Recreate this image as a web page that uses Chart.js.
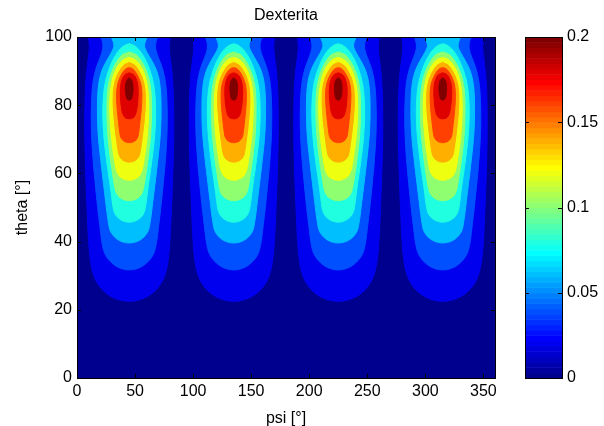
<!DOCTYPE html>
<html>
<head>
<meta charset="utf-8">
<title>Dexterita</title>
<script src="https://cdn.jsdelivr.net/npm/chart.js@4.4.1/dist/chart.umd.min.js"></script>
<style>
  html, body { margin: 0; padding: 0; background: #fff; }
  #wrap { position: relative; width: 604px; height: 426px; overflow: hidden; }
  #plot { position: absolute; left: 0; top: 0; }
  #cbar { position: absolute; left: 495px; top: 0; }
</style>
</head>
<body>
<div id="wrap">
  <canvas id="plot" width="510" height="426"></canvas>
  <canvas id="cbar" width="109" height="426"></canvas>
</div>
<script>
// axis ticks
const psiTicks = [0, 50, 100, 150, 200, 250, 300, 350];
const thetaTicks = [0, 20, 40, 60, 80, 100];
const colorbarTicks = [0, 0.05, 0.1, 0.15, 0.2];
const colorbarLabels = ['0', '0.05', '0.1', '0.15', '0.2'];
const cMax = 0.2;

// contour levels and the psi centre of each lobe
const levels = [0.02, 0.04, 0.06, 0.08, 0.1, 0.12, 0.14, 0.16, 0.18, 0.2];
const lobeCenters = [45, 135, 225, 315];

// outline of each level around one lobe: [theta, half width in psi], bottom to top
const edge02 = [[22.5, 0], [22.6, 4.3], [23, 9.6], [23.7, 14.5], [24.5, 18.4], [26, 23.5], [28, 27.8], [30, 30.5], [33.5, 33.1], [40, 35], [50, 36.4], [60, 37.5], [72, 38.3], [84, 37.9], [90, 36.7], [94, 35.2], [97, 34.4], [100, 35.2]];
const edge04 = [[31.7, 0], [31.8, 3.7], [32.2, 7.8], [33, 12.3], [34.5, 17.2], [36.5, 21.1], [39.7, 23.5], [44, 25.1], [50, 27.2], [57, 29.3], [65, 31.4], [74, 32.7], [82, 32.4], [87, 31.1], [91, 28.4], [94, 25.1], [96.5, 22.8], [98.5, 23], [100, 24.6]];
const edge06 = [[39.6, 0], [39.7, 3.3], [40.1, 7.2], [40.8, 10.8], [42, 14.3], [43.5, 16.7], [45.5, 17.9], [48, 19], [52, 20.4], [57, 22.2], [64, 24.6], [72, 26.9], [80, 27.4], [86, 26.4], [90, 23.7], [93, 19.5], [95.5, 15.3], [97.5, 13.2], [100, 15.3]];
const edge08 = [[45.7, 0], [45.8, 2.9], [46.2, 6.3], [46.9, 9.4], [48, 12.1], [49.9, 13.9], [54, 15.5], [58, 17.1], [64, 19.6], [71, 21.9], [78, 22.8], [84, 21.9], [88, 19.8], [91.5, 16.4], [94.5, 12.1], [96.5, 7.8], [97.6, 3.7], [98, 0]];
const edge10 = [[52, 0], [52.1, 2.8], [52.5, 6], [53.1, 8.6], [54, 10.7], [55.5, 12.2], [58, 13.5], [63, 15.7], [71, 18.4], [78, 19.2], [84, 18.7], [88, 16.7], [91, 13.5], [93.3, 9.7], [94.8, 5.9], [95.6, 0]];
const edge12 = [[58, 0], [58.1, 2.6], [58.5, 5.8], [59.1, 8.3], [60, 10], [61.2, 11.3], [64, 12.8], [70, 15.2], [77, 16.7], [83, 16.5], [87, 14.9], [90, 12.1], [92.2, 8.3], [93.5, 4.4], [94, 0]];
const edge14 = [[63.3, 0], [63.4, 2.4], [63.8, 5.2], [64.5, 7.4], [65.6, 9], [69, 10.6], [73, 12.1], [79, 13.7], [84, 13.7], [87.5, 11.8], [90, 8.4], [91.8, 4.5], [92.5, 0]];
const edge16 = [[69, 0], [69.1, 2.3], [69.5, 4.8], [70.2, 6.7], [71.2, 7.8], [75, 9.2], [79, 10.4], [83, 10.9], [86, 10.1], [88.3, 7.8], [90, 4.8], [90.8, 2.3], [91, 0]];
const edge18 = [[76, 0], [76.1, 2], [76.5, 4], [77.5, 5.6], [79.5, 6.8], [82.5, 7.6], [85.5, 7.5], [87.8, 5.9], [89, 3.5], [89.5, 0]];
const edge20 = [[81.5, 0], [81.6, 1.3], [82.2, 2.3], [83.5, 3], [85, 3.3], [86.8, 2.7], [87.7, 1.4], [88, 0]];
const outlines = [edge02, edge04, edge06, edge08, edge10, edge12, edge14, edge16, edge18, edge20];

const FONT = "'Liberation Sans', Arial, Helvetica, sans-serif";
Chart.defaults.font.family = FONT;
Chart.defaults.font.size = 16;
Chart.defaults.color = '#000';

// matlab jet, 64 entries, k = 1..64
function jet(k) {
    const r = k <= 24 ? 0 : k <= 40 ? (k - 24) / 16 : k <= 56 ? 1 : (72 - k) / 16;
    const g = k <= 8 ? 0 : k <= 24 ? (k - 8) / 16 : k <= 40 ? 1 : k <= 56 ? (56 - k) / 16 : 0;
    const b = k <= 8 ? (k + 8) / 16 : k <= 24 ? 1 : k <= 40 ? (40 - k) / 16 : 0;
    return `rgb(${Math.round(r * 255)},${Math.round(g * 255)},${Math.round(b * 255)})`;
}

function levelColor(v) {
    return jet(Math.min(64, Math.floor(v / cMax * 64) + 1));
}

// closed outline: left side top->bottom, then right side bottom->top
function lobeOutline(edge, c) {
    const left = edge.slice().reverse().map(([t, w]) => ({ x: c - w, y: t }));
    const right = edge.slice(1).map(([t, w]) => ({ x: c + w, y: t }));
    return left.concat(right);
}

const datasets = [];
levels.forEach((level, i) => {
    const color = levelColor(level);
    lobeCenters.forEach(c => {
        datasets.push({
            data: lobeOutline(outlines[i], c),
            backgroundColor: color,
            borderColor: color,
            borderWidth: 1,
            fill: 'shape',
            tension: 0.35,
            pointRadius: 0,
            order: levels.length - i
        });
    });
});

// black box with inward ticks on every side
function drawFrame(chart, xTicks, yTicks) {
    const { ctx, chartArea: a } = chart;
    const len = 4;
    ctx.save();
    ctx.strokeStyle = '#000';
    ctx.lineWidth = 1;
    ctx.beginPath();
    xTicks.forEach(px => {
        px = Math.round(px) + 0.5;
        ctx.moveTo(px, a.bottom); ctx.lineTo(px, a.bottom - len);
        ctx.moveTo(px, a.top); ctx.lineTo(px, a.top + len);
    });
    yTicks.forEach(py => {
        py = Math.round(py) + 0.5;
        ctx.moveTo(a.left, py); ctx.lineTo(a.left + len, py);
        ctx.moveTo(a.right, py); ctx.lineTo(a.right - len, py);
    });
    ctx.stroke();
    ctx.strokeRect(Math.round(a.left) + 0.5, Math.round(a.top) + 0.5, Math.round(a.width), Math.round(a.height));
    ctx.restore();
}

const plotFrame = {
    id: 'plotFrame',
    beforeDraw(chart) {
        const { ctx, chartArea: a } = chart;
        ctx.save();
        ctx.fillStyle = levelColor(0);
        ctx.fillRect(a.left, a.top, a.width, a.height);
        ctx.restore();
    },
    afterDraw(chart) {
        const { x, y } = chart.scales;
        drawFrame(chart,
            x.ticks.map(t => x.getPixelForValue(t.value)),
            y.ticks.map(t => y.getPixelForValue(t.value)));
    }
};

new Chart(document.getElementById('plot'), {
    type: 'line',
    data: { datasets },
    options: {
        animation: false,
        responsive: false,
        devicePixelRatio: 1,
        layout: { padding: { left: 0, right: 15, top: 0, bottom: 0 } },
        plugins: {
            legend: { display: false },
            tooltip: { enabled: false },
            title: {
                display: true,
                text: 'Dexterita',
                fullSize: false,
                color: '#000',
                font: { size: 16, weight: 'normal', lineHeight: 1 },
                padding: { top: 8, bottom: 13 }
            }
        },
        scales: {
            x: {
                type: 'linear',
                min: 0,
                max: 360,
                grid: { display: false, drawTicks: false },
                border: { display: false },
                afterBuildTicks: s => { s.ticks = psiTicks.map(v => ({ value: v })); },
                afterFit: s => { s.height = 48; },
                ticks: { padding: 4, maxRotation: 0, autoSkip: false, callback: v => String(v) },
                title: { display: true, text: 'psi [°]', font: { size: 16, lineHeight: 1 }, padding: { top: 0, bottom: -1 } }
            },
            y: {
                type: 'linear',
                min: 0,
                max: 100,
                grid: { display: false, drawTicks: false },
                border: { display: false },
                afterBuildTicks: s => { s.ticks = thetaTicks.map(v => ({ value: v })); },
                afterFit: s => { s.width = 77; },
                ticks: { padding: 5, autoSkip: false, callback: v => String(v) },
                title: { display: true, text: 'theta [°]', font: { size: 16, lineHeight: 1 }, padding: { top: 15, bottom: 0 } }
            }
        }
    },
    plugins: [plotFrame]
});

const colorbarPaint = {
    id: 'colorbarPaint',
    beforeDraw(chart) {
        const { ctx, chartArea: a, scales: { y } } = chart;
        ctx.save();
        for (let k = 1; k <= 64; k++) {
            const y0 = y.getPixelForValue((k - 1) / 64 * cMax);
            const y1 = y.getPixelForValue(k / 64 * cMax);
            ctx.fillStyle = jet(k);
            ctx.fillRect(a.left, y1, a.width, y0 - y1 + 0.5);
        }
        ctx.restore();
    },
    afterDraw(chart) {
        const { y } = chart.scales;
        drawFrame(chart, [], y.ticks.map(t => y.getPixelForValue(t.value)));
    }
};

new Chart(document.getElementById('cbar'), {
    type: 'bar',
    data: { labels: [''], datasets: [] },
    options: {
        animation: false,
        responsive: false,
        devicePixelRatio: 1,
        layout: { padding: { left: 30, right: 0, top: 37, bottom: 48 } },
        plugins: { legend: { display: false }, tooltip: { enabled: false } },
        scales: {
            x: { display: false },
            y: {
                position: 'right',
                min: 0,
                max: cMax,
                grid: { display: false, drawTicks: false },
                border: { display: false },
                afterBuildTicks: s => { s.ticks = colorbarTicks.map(v => ({ value: v })); },
                afterFit: s => { s.width = 42; },
                ticks: { padding: 5, autoSkip: false, callback: (v, i) => colorbarLabels[i] }
            }
        }
    },
    plugins: [colorbarPaint]
});
</script>
</body>
</html>
